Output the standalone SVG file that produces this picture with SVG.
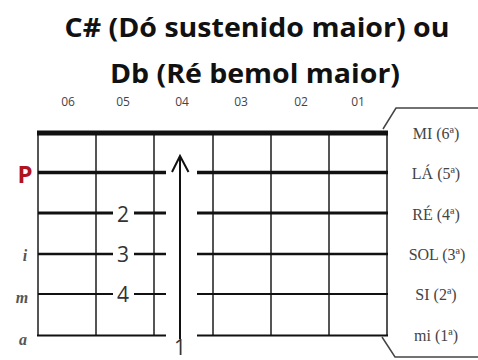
<svg xmlns="http://www.w3.org/2000/svg" width="478" height="360" viewBox="0 0 478 360">
<style>
.title{font-family:"Open Sans","Liberation Sans",sans-serif;font-weight:bold;font-size:27px;fill:#111;text-anchor:middle}
.col{font-family:"Open Sans","Liberation Sans",sans-serif;font-size:12px;fill:#444;text-anchor:middle}
.fret{stroke:#555;stroke-width:2;fill:none}
.str{stroke:#111;fill:none}
.fing{font-family:"Open Sans","Liberation Sans",sans-serif;font-size:21px;fill:#333;text-anchor:middle}
.left{font-family:"Liberation Serif",serif;font-style:italic;font-weight:bold;font-size:16px;fill:#555;text-anchor:middle}
.right{font-family:"Liberation Serif",serif;font-size:16px;fill:#444;text-anchor:middle}
</style>
<rect width="478" height="360" fill="#fff"/>
<g id="title">
<text class="title" x="257" y="37" textLength="385" lengthAdjust="spacingAndGlyphs">C# (Dó sustenido maior) ou</text>
<text class="title" x="255" y="83" textLength="290" lengthAdjust="spacingAndGlyphs">Db (Ré bemol maior)</text>
</g>
<g id="column-labels">
<text class="col" x="68" y="106">06</text>
<text class="col" x="123" y="106">05</text>
<text class="col" x="182" y="106">04</text>
<text class="col" x="241" y="106">03</text>
<text class="col" x="301" y="106">02</text>
<text class="col" x="358" y="106">01</text>
</g>
<g id="callout">
<polyline points="478,108 396,108 383,129" fill="none" stroke="#444" stroke-width="1.5"/>
<polyline points="382,337 395,357 478,357" fill="none" stroke="#444" stroke-width="1.5"/>
</g>
<g id="frets">
<line class="fret" x1="38" y1="133" x2="38" y2="336"/>
<line class="fret" x1="96" y1="133" x2="96" y2="336"/>
<line class="fret" x1="154" y1="133" x2="154" y2="336"/>
<line class="fret" x1="213" y1="133" x2="213" y2="336"/>
<line class="fret" x1="271" y1="133" x2="271" y2="336"/>
<line class="fret" x1="329" y1="133" x2="329" y2="336"/>
<line class="fret" x1="387" y1="133" x2="387" y2="336"/>
</g>
<g id="strings">
<line class="str" x1="37" y1="133" x2="388" y2="133" stroke-width="5"/>
<path class="str" d="M38 172.5H166M197 172.5H388" stroke-width="3.5"/>
<path class="str" d="M38 213H113M134 213H166M197 213H388" stroke-width="3"/>
<path class="str" d="M38 254H113M134 254H166M197 254H388" stroke-width="2.5" stroke="#222"/>
<path class="str" d="M38 294H113M134 294H166M197 294H388" stroke-width="2" stroke="#444"/>
<path class="str" d="M37 335.5H166M197 335.5H388" stroke-width="2" stroke="#555"/>
</g>
<g id="connectors">
<line x1="180" y1="157" x2="180" y2="339" stroke="#111" stroke-width="2"/>
<polyline points="172,172 180,156 188.5,172" fill="none" stroke="#111" stroke-width="2"/>
</g>
<g id="fingers">
<text class="fing" x="123" y="222">2</text>
<text class="fing" x="123" y="262">3</text>
<text class="fing" x="123" y="302">4</text>
<text class="fing" x="180" y="355" font-size="19">1</text>
</g>
<g id="left-labels">
<text x="25" y="183" font-family="'Open Sans','Liberation Sans',sans-serif" font-weight="bold" font-size="24" fill="#b0141c" text-anchor="middle">P</text>
<text class="left" x="25" y="261">i</text>
<text class="left" x="22" y="303">m</text>
<text class="left" x="23" y="345">a</text>
</g>
<g id="right-labels">
<text class="right" x="436" y="139">MI (6ª)</text>
<text class="right" x="436" y="179">LÁ (5ª)</text>
<text class="right" x="436" y="220">RÉ (4ª)</text>
<text class="right" x="437" y="260">SOL (3ª)</text>
<text class="right" x="436" y="300">SI (2ª)</text>
<text class="right" x="436" y="341">mi (1ª)</text>
</g>
</svg>
